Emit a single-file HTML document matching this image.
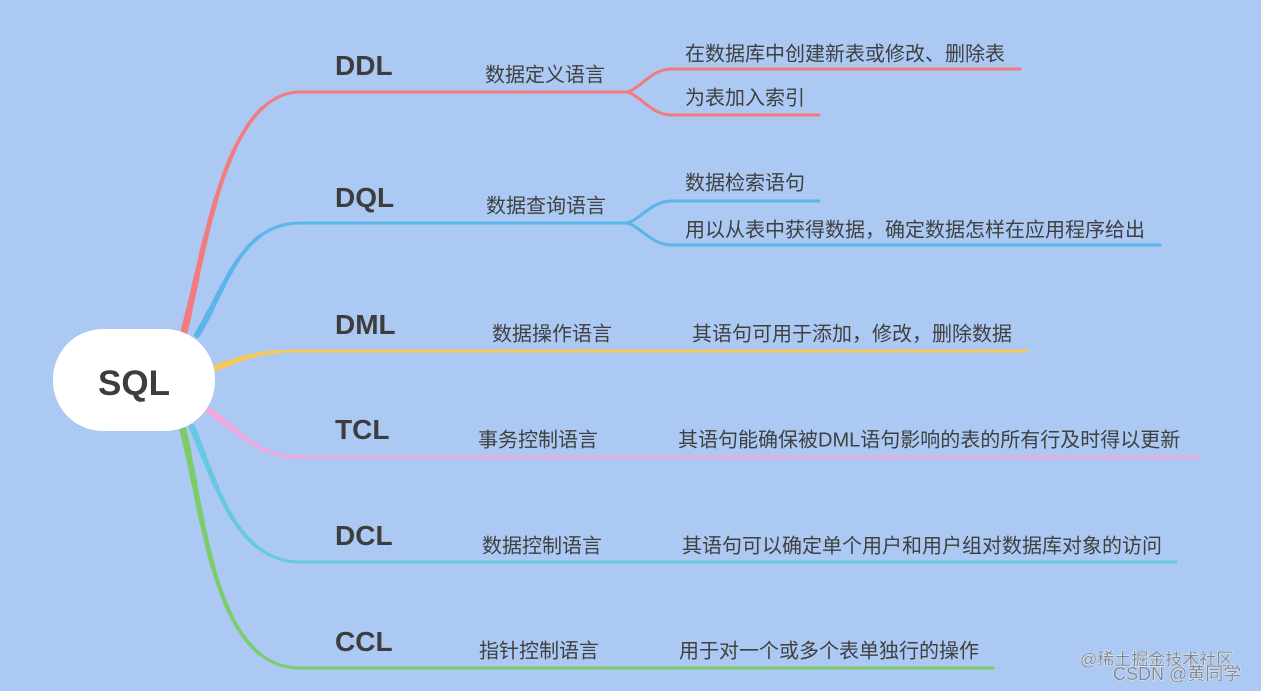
<!DOCTYPE html>
<html>
<head>
<meta charset="utf-8">
<style>
  html,body{margin:0;padding:0;}
  body{width:1261px;height:691px;overflow:hidden;background:#abc9f2;}
  svg{display:block;}
  .lbl{font-family:"Liberation Sans",sans-serif;font-weight:bold;font-size:28px;fill:#3d3d3d;}
  .cj{font-family:"Liberation Sans","Noto Sans CJK SC",sans-serif;font-size:20px;fill:#404040;}
  .wm{font-family:"Liberation Sans","Noto Sans CJK SC",sans-serif;fill:#808896;stroke:#ffffff;stroke-width:0.7px;paint-order:stroke;}
  .b{fill:none;stroke-linecap:round;stroke-linejoin:round;}
</style>
</head>
<body>
<svg width="1261" height="691" viewBox="0 0 1261 691" xmlns="http://www.w3.org/2000/svg">
  <rect x="0" y="0" width="1261" height="691" fill="#abc9f2"/>

  <!-- Red DDL -->
  <g stroke="#f37b80" class="b">
    <path d="M184,332 C205,250 225,92 300,92 L628,92" stroke-width="3"/>
    <path d="M184,332 C205,250 225,92 300,92" stroke-width="3.6" stroke-dasharray="240 3000"/>
    <path d="M184,332 C205,250 225,92 300,92" stroke-width="4.2" stroke-dasharray="190 3000"/>
    <path d="M184,332 C205,250 225,92 300,92" stroke-width="4.8" stroke-dasharray="140 3000"/>
    <path d="M184,332 C205,250 225,92 300,92" stroke-width="5.5" stroke-dasharray="95 3000"/>
    <path d="M184,332 C205,250 225,92 300,92" stroke-width="6.2" stroke-dasharray="55 3000"/>
    <path d="M184,332 C205,250 225,92 300,92" stroke-width="7" stroke-dasharray="22 3000"/>
    <path d="M626,92 C640,90 650,69 672,69 L1020,69" stroke-width="3"/>
    <path d="M626,92 C640,94 650,115 672,115 L819,115" stroke-width="3"/>
  </g>

  <!-- Blue DQL -->
  <g stroke="#5bb4ea" class="b">
    <path d="M197,335 C225,290 240,223 300,223 L628,223" stroke-width="3"/>
    <path d="M197,335 C225,290 240,223 300,223" stroke-width="3.7" stroke-dasharray="120 3000"/>
    <path d="M197,335 C225,290 240,223 300,223" stroke-width="4.5" stroke-dasharray="85 3000"/>
    <path d="M197,335 C225,290 240,223 300,223" stroke-width="5.3" stroke-dasharray="55 3000"/>
    <path d="M197,335 C225,290 240,223 300,223" stroke-width="6.2" stroke-dasharray="28 3000"/>
    <path d="M626,223 C640,221 650,201 672,201 L819,201" stroke-width="3"/>
    <path d="M626,223 C640,225 650,245 672,245 L1160,245" stroke-width="3"/>
  </g>

  <!-- Yellow DML -->
  <g stroke="#f7c85d" class="b">
    <path d="M212,369 C245,358 255,351 300,351 L1027,351" stroke-width="3"/>
    <path d="M212,369 C245,358 255,351 300,351" stroke-width="4" stroke-dasharray="65 3000"/>
    <path d="M212,369 C245,358 255,351 300,351" stroke-width="5.2" stroke-dasharray="40 3000"/>
    <path d="M212,369 C245,358 255,351 300,351" stroke-width="6.5" stroke-dasharray="18 3000"/>
  </g>

  <!-- Pink TCL -->
  <g stroke="#f2a6dd" class="b">
    <path d="M206,409 C240,430 255,457 300,457 L1198,457" stroke-width="3"/>
    <path d="M206,409 C240,430 255,457 300,457" stroke-width="4" stroke-dasharray="75 3000"/>
    <path d="M206,409 C240,430 255,457 300,457" stroke-width="5.2" stroke-dasharray="45 3000"/>
    <path d="M206,409 C240,430 255,457 300,457" stroke-width="6.5" stroke-dasharray="20 3000"/>
  </g>

  <!-- Cyan DCL -->
  <g stroke="#66c8e2" class="b">
    <path d="M192,427 C215,480 235,562 300,562 L1176,562" stroke-width="3"/>
    <path d="M192,427 C215,480 235,562 300,562" stroke-width="3.7" stroke-dasharray="140 3000"/>
    <path d="M192,427 C215,480 235,562 300,562" stroke-width="4.5" stroke-dasharray="100 3000"/>
    <path d="M192,427 C215,480 235,562 300,562" stroke-width="5.3" stroke-dasharray="65 3000"/>
    <path d="M192,427 C215,480 235,562 300,562" stroke-width="6.2" stroke-dasharray="32 3000"/>
  </g>

  <!-- Green CCL -->
  <g stroke="#7dcc6b" class="b">
    <path d="M183,430 C205,520 215,668 300,668 L993,668" stroke-width="3"/>
    <path d="M183,430 C205,520 215,668 300,668" stroke-width="3.6" stroke-dasharray="240 3000"/>
    <path d="M183,430 C205,520 215,668 300,668" stroke-width="4.2" stroke-dasharray="190 3000"/>
    <path d="M183,430 C205,520 215,668 300,668" stroke-width="4.8" stroke-dasharray="140 3000"/>
    <path d="M183,430 C205,520 215,668 300,668" stroke-width="5.5" stroke-dasharray="95 3000"/>
    <path d="M183,430 C205,520 215,668 300,668" stroke-width="6.2" stroke-dasharray="55 3000"/>
    <path d="M183,430 C205,520 215,668 300,668" stroke-width="7" stroke-dasharray="22 3000"/>
  </g>

  <!-- Root node -->
  <rect x="53" y="329" width="162" height="102" rx="50" ry="50" fill="#ffffff"/>
  <text x="134" y="395" text-anchor="middle" font-family="Liberation Sans, sans-serif" font-weight="bold" font-size="35" fill="#3d3d3d">SQL</text>

  <!-- Branch labels -->
  <text class="lbl" x="335" y="75">DDL</text>
  <text class="lbl" x="335" y="207">DQL</text>
  <text class="lbl" x="335" y="334">DML</text>
  <text class="lbl" x="335" y="439">TCL</text>
  <text class="lbl" x="335" y="545">DCL</text>
  <text class="lbl" x="335" y="651">CCL</text>

  <!-- Sub labels -->
  <text class="cj" x="485" y="81.5">数据定义语言</text>
  <text class="cj" x="685" y="60.5">在数据库中创建新表或修改、删除表</text>
  <text class="cj" x="685" y="104.5">为表加入索引</text>

  <text class="cj" x="486" y="212.5">数据查询语言</text>
  <text class="cj" x="685" y="189.5">数据检索语句</text>
  <text class="cj" x="685" y="236.5">用以从表中获得数据，确定数据怎样在应用程序给出</text>

  <text class="cj" x="492" y="340.5">数据操作语言</text>
  <text class="cj" x="692" y="340.5">其语句可用于添加，修改，删除数据</text>

  <text class="cj" x="478" y="446.5">事务控制语言</text>
  <text class="cj" x="678" y="446.5">其语句能确保被DML语句影响的表的所有行及时得以更新</text>

  <text class="cj" x="482" y="552.5">数据控制语言</text>
  <text class="cj" x="682" y="552.5">其语句可以确定单个用户和用户组对数据库对象的访问</text>

  <text class="cj" x="479" y="657.5">指针控制语言</text>
  <text class="cj" x="679" y="657.5">用于对一个或多个表单独行的操作</text>

  <!-- Watermarks -->
  <text class="wm" x="1080" y="665" font-size="17">@稀土掘金技术社区</text>
  <text class="wm" x="1113" y="680" font-size="18">CSDN @黄同学</text>
</svg>
</body>
</html>
